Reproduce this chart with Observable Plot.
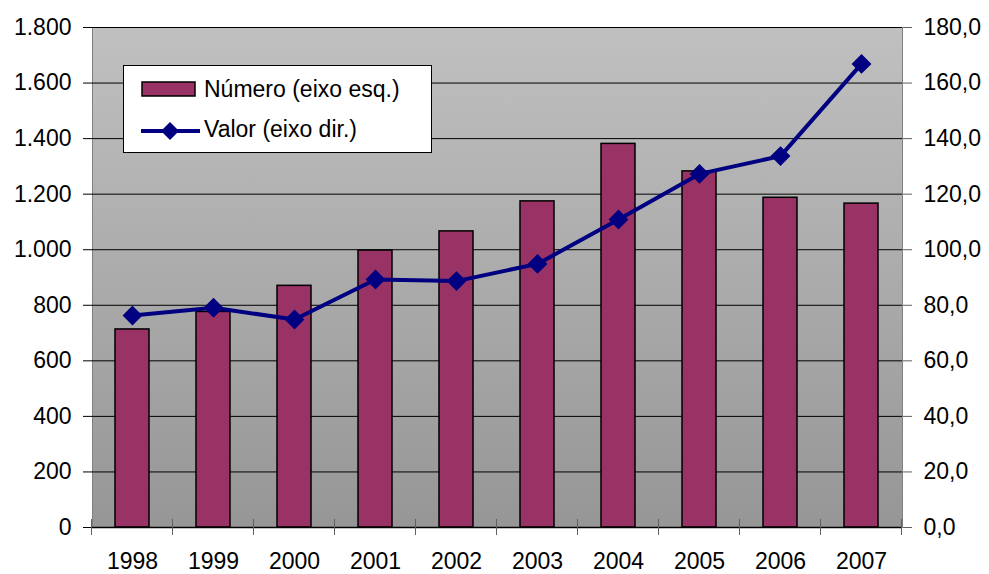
<!DOCTYPE html>
<html>
<head>
<meta charset="utf-8">
<script src="https://cdn.jsdelivr.net/npm/d3@7"></script>
<script src="https://cdn.jsdelivr.net/npm/@observablehq/plot@0.6"></script>
<style>
  html, body { margin: 0; padding: 0; background: #fff; }
  #wrap { position: relative; width: 989px; height: 574px; font-family: "Liberation Sans", Arial, sans-serif; }
  #legend { position: absolute; left: 123px; top: 65px; width: 307px; height: 86px; background: #fff; border: 1px solid #000; }
  .li { position: absolute; left: 0; font-size: 23px; color: #000; white-space: nowrap; }
  .li svg { position: absolute; left: 0; top: 0; }
  .li span { position: absolute; left: 80px; }
</style>
</head>
<body>
<div id="wrap"></div>
<script>
const anos = ["1998", "1999", "2000", "2001", "2002", "2003", "2004", "2005", "2006", "2007"];
const numero = [713, 776, 870, 997, 1066, 1174, 1381, 1282, 1187, 1166];
const valor = [76.3, 79.1, 74.9, 89.3, 88.7, 94.9, 110.9, 127.3, 133.7, 166.9];
const ticksEsq = [0, 200, 400, 600, 800, 1000, 1200, 1400, 1600, 1800];
const serieNumero = "Número (eixo esq.)";
const serieValor = "Valor (eixo dir.)";

const rows = anos.map((a, i) => ({ano: a, numero: numero[i], valor: valor[i]}));
const loc = d3.formatLocale({decimal: ",", thousands: ".", grouping: [3], currency: ["", ""]});
const fmtEsq = loc.format(",");
const fmtDir = d => loc.format(".1f")(d / 10);

const chart = Plot.plot({
  width: 989,
  height: 574,
  marginLeft: 92,
  marginRight: 87,
  marginTop: 27,
  marginBottom: 47,
  style: {fontFamily: '"Liberation Sans", Arial, sans-serif', fontSize: "23px", background: "#fff", color: "#000"},
  x: {domain: anos, paddingInner: 0.58, paddingOuter: 0.29, label: null, axis: null},
  y: {domain: [0, 1800], label: null, axis: null},
  marks: [
    Plot.frame({fill: "url(#bgGrad)", stroke: "#808080"}),
    Plot.gridY(ticksEsq, {stroke: "#000", strokeOpacity: 1, strokeWidth: 1}),
    Plot.barY(rows, {x: "ano", y: "numero", fill: "#993366", stroke: "#000", strokeWidth: 1.5}),
    Plot.lineY(rows, {x: "ano", y: d => d.valor * 10, stroke: "#000080", strokeWidth: 4}),
    Plot.dot(rows, {x: "ano", y: d => d.valor * 10, symbol: "diamond2", r: 8, fill: "#000080", stroke: "#000080"}),
    Plot.axisY(ticksEsq, {anchor: "left", tickFormat: fmtEsq, tickSize: 9, tickPadding: 12, label: null, line: true, stroke: "#000", fontSize: 23}),
    Plot.axisY(ticksEsq, {anchor: "right", tickFormat: fmtDir, tickSize: 9, tickPadding: 12, label: null, line: true, stroke: "#606060", fontSize: 23}),
    Plot.axisX({anchor: "bottom", tickSize: 0, tickPadding: 25, label: null, fontSize: 23}),
    Plot.ruleY([0], {stroke: "#000", strokeWidth: 1.5})
  ]
});

// gradient definition for the plot area background
const svg = d3.select(chart);
const grad = svg.insert("defs", ":first-child").append("linearGradient")
  .attr("id", "bgGrad").attr("x1", 0).attr("y1", 0).attr("x2", 0).attr("y2", 1);
grad.append("stop").attr("offset", "0%").attr("stop-color", "#c0c0c0");
grad.append("stop").attr("offset", "100%").attr("stop-color", "#969696");

// category boundary ticks on the x axis, from the library's x scale
const xs = chart.scale("x");
const ys = chart.scale("y");
const step = xs.step ?? (xs.bandwidth / (1 - 0.58));
const gap = (step - xs.bandwidth) / 2;
const bounds = anos.map(a => xs.apply(a) - gap).concat([xs.apply(anos[anos.length - 1]) + xs.bandwidth + gap]);
const y0 = ys.apply(0);
svg.append("g").attr("stroke", "#606060").attr("stroke-width", 1)
  .selectAll("line").data(bounds).join("line")
  .attr("x1", d => d).attr("x2", d => d)
  .attr("y1", y0 - 8).attr("y2", y0 + 8);

const wrap = document.getElementById("wrap");
wrap.appendChild(chart);

// legend
const leg = document.createElement("div");
leg.id = "legend";
leg.innerHTML = `
  <div class="li" style="top:10px;height:30px;width:300px">
    <svg width="80" height="30"><rect x="18" y="6" width="53" height="14" fill="#993366" stroke="#000" stroke-width="1.5"/></svg>
    <span style="top:0px">${serieNumero}</span>
  </div>
  <div class="li" style="top:50px;height:30px;width:300px">
    <svg width="80" height="30"><line x1="17" x2="76" y1="15" y2="15" stroke="#000080" stroke-width="4"/><path d="M46,6 L55,15 L46,24 L37,15 Z" fill="#000080"/></svg>
    <span style="top:0px">${serieValor}</span>
  </div>`;
wrap.appendChild(leg);
</script>
</body>
</html>
